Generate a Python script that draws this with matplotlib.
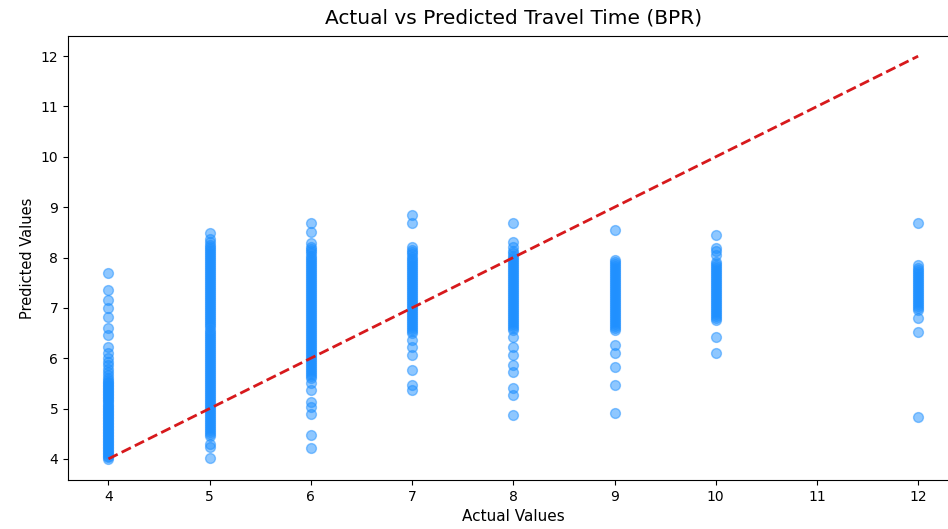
import matplotlib.pyplot as plt

# predicted values, grouped by actual value
pred_4 = [4.00, 4.03, 4.06, 4.09, 4.12, 4.15, 4.18, 4.21, 4.24, 4.27, 4.30, 4.33,
          4.36, 4.39, 4.42, 4.45, 4.48, 4.51, 4.54, 4.57, 4.60, 4.63, 4.66, 4.69,
          4.72, 4.75, 4.78, 4.81, 4.84, 4.87, 4.90, 4.93, 4.96, 4.99, 5.02, 5.05,
          5.08, 5.11, 5.14, 5.17, 5.20, 5.23, 5.26, 5.29, 5.32, 5.35, 5.38, 5.41,
          5.44, 5.47, 5.50, 5.53, 5.56, 5.60, 5.66, 5.72, 5.78, 5.86, 5.92, 6.00,
          6.10, 6.22, 6.46, 6.60, 6.82, 7.00, 7.15, 7.35, 7.69]
pred_5 = [4.02, 4.24, 4.30, 4.45, 4.49, 4.53, 4.57, 4.61, 4.65, 4.69, 4.73, 4.77,
          4.81, 4.85, 4.89, 4.93, 4.97, 5.01, 5.05, 5.09, 5.13, 5.17, 5.21, 5.25,
          5.29, 5.33, 5.37, 5.41, 5.45, 5.49, 5.53, 5.57, 5.61, 5.65, 5.69, 5.73,
          5.77, 5.81, 5.85, 5.89, 5.93, 5.97, 6.01, 6.05, 6.09, 6.13, 6.17, 6.21,
          6.25, 6.29, 6.33, 6.37, 6.41, 6.45, 6.49, 6.53, 6.57, 6.61, 6.65, 6.69,
          6.73, 6.77, 6.81, 6.85, 6.89, 6.93, 6.97, 7.01, 7.05, 7.09, 7.13, 7.17,
          7.21, 7.25, 7.29, 7.33, 7.37, 7.41, 7.45, 7.49, 7.53, 7.57, 7.61, 7.65,
          7.69, 7.73, 7.77, 7.81, 7.85, 7.89, 7.93, 7.97, 8.01, 8.05, 8.09, 8.13,
          8.17, 8.21, 8.25, 8.30, 8.36, 8.48]
pred_6 = [4.22, 4.48, 4.90, 5.03, 5.13, 5.37, 5.50, 5.60, 5.64, 5.68, 5.72, 5.76,
          5.80, 5.84, 5.88, 5.92, 5.96, 6.00, 6.04, 6.08, 6.12, 6.16, 6.20, 6.24,
          6.28, 6.32, 6.36, 6.40, 6.44, 6.48, 6.52, 6.56, 6.60, 6.64, 6.68, 6.72,
          6.76, 6.80, 6.84, 6.88, 6.92, 6.96, 7.00, 7.04, 7.08, 7.12, 7.16, 7.20,
          7.24, 7.28, 7.32, 7.36, 7.40, 7.44, 7.48, 7.52, 7.56, 7.60, 7.64, 7.68,
          7.72, 7.76, 7.80, 7.84, 7.88, 7.92, 7.96, 8.00, 8.04, 8.08, 8.12, 8.16,
          8.20, 8.28, 8.50, 8.68]
pred_7 = [5.37, 5.47, 5.77, 6.06, 6.22, 6.36, 6.50, 6.54, 6.58, 6.62, 6.66, 6.70,
          6.74, 6.78, 6.82, 6.86, 6.90, 6.94, 6.98, 7.02, 7.06, 7.10, 7.14, 7.18,
          7.22, 7.26, 7.30, 7.34, 7.38, 7.42, 7.46, 7.50, 7.54, 7.58, 7.62, 7.66,
          7.70, 7.74, 7.78, 7.82, 7.86, 7.90, 7.94, 7.98, 8.02, 8.06, 8.10, 8.14,
          8.20, 8.68, 8.84]
pred_8 = [4.87, 5.27, 5.41, 5.73, 5.87, 6.06, 6.22, 6.42, 6.56, 6.60, 6.64, 6.68,
          6.72, 6.76, 6.80, 6.84, 6.88, 6.92, 6.96, 7.00, 7.04, 7.08, 7.12, 7.16,
          7.20, 7.24, 7.28, 7.32, 7.36, 7.40, 7.44, 7.48, 7.52, 7.56, 7.60, 7.64,
          7.68, 7.72, 7.76, 7.80, 7.84, 7.88, 7.92, 7.96, 8.00, 8.04, 8.08, 8.12,
          8.20, 8.30, 8.68]
pred_9 = [4.91, 5.47, 5.83, 6.10, 6.26, 6.56, 6.60, 6.64, 6.68, 6.72, 6.76, 6.80,
          6.84, 6.88, 6.92, 6.96, 7.00, 7.04, 7.08, 7.12, 7.16, 7.20, 7.24, 7.28,
          7.32, 7.36, 7.40, 7.44, 7.48, 7.52, 7.56, 7.60, 7.64, 7.68, 7.72, 7.76,
          7.80, 7.84, 7.88, 7.92, 7.95, 8.55]
pred_10 = [6.10, 6.42, 6.76, 6.80, 6.84, 6.88, 6.92, 6.96, 7.00, 7.04, 7.08, 7.12,
           7.16, 7.20, 7.24, 7.28, 7.32, 7.36, 7.40, 7.44, 7.48, 7.52, 7.56, 7.60,
           7.64, 7.68, 7.72, 7.76, 7.80, 7.84, 7.88, 7.92, 8.05, 8.12, 8.19, 8.44]
pred_12 = [4.83, 6.52, 6.80, 6.96, 7.00, 7.04, 7.08, 7.12, 7.16, 7.20, 7.24, 7.28,
           7.32, 7.36, 7.40, 7.44, 7.48, 7.52, 7.56, 7.60, 7.64, 7.68, 7.72, 7.76,
           7.80, 7.85, 8.68]

groups = {4: pred_4, 5: pred_5, 6: pred_6, 7: pred_7, 8: pred_8,
          9: pred_9, 10: pred_10, 12: pred_12}

actual = []
predicted = []
for a, ys in groups.items():
    actual += [a] * len(ys)
    predicted += ys

fig = plt.figure(figsize=(9.48, 5.29), dpi=100)
ax = fig.add_axes([0.0717, 0.0926, 0.9395, 0.8393])

ax.scatter(actual, predicted, s=50, color='#1e90ff', alpha=0.5)
lo, hi = min(actual), max(actual)
ax.plot([lo, hi], [lo, hi], '--', color='#d7191c', lw=2)

ax.set_xlim(3.6, 12.4)
ax.set_ylim(3.58, 12.4)
ax.set_xticks(range(4, 13))
ax.set_yticks(range(4, 13))
ax.tick_params(labelsize=10)
ax.set_xlabel('Actual Values', fontsize=11)
ax.set_ylabel('Predicted Values', fontsize=10.5)
ax.set_title('Actual vs Predicted Travel Time (BPR)', fontsize=14.5, pad=9)

plt.savefig('out.png', dpi=100)
